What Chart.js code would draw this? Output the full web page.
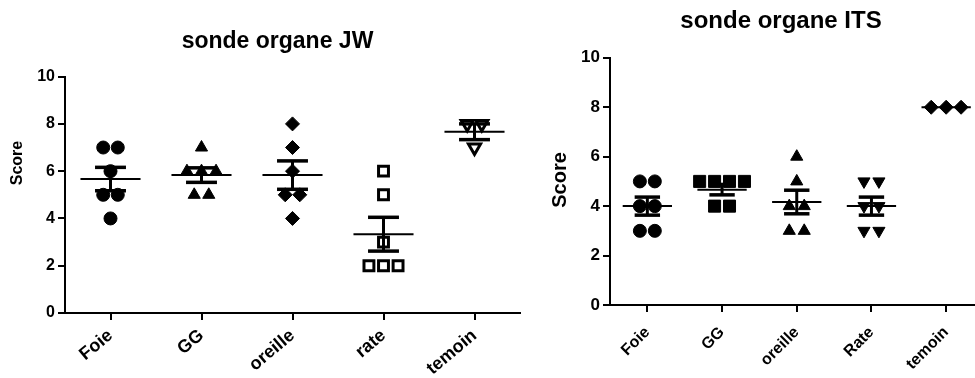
<!DOCTYPE html>
<html><head><meta charset="utf-8">
<script src="https://cdn.jsdelivr.net/npm/chart.js@4/dist/chart.umd.min.js"></script>
<style>
html,body{margin:0;padding:0;background:#fff;overflow:hidden;width:975px;height:378px;position:relative;}
canvas{position:absolute;top:0;}
#c1{left:0;} #c2{left:530px;}
</style></head><body>
<canvas id="c1" width="555" height="378"></canvas>
<canvas id="c2" width="502" height="378"></canvas>
<script>
// ---- data ----
const jwCategories = ['Foie', 'GG', 'oreille', 'rate', 'temoin'];
const jwFoie    = [7, 7, 6, 5, 5, 4];
const jwGG      = [7, 6, 6, 6, 5, 5];
const jwOreille = [8, 7, 6, 5, 5, 4];
const jwRate    = [6, 5, 3, 2, 2, 2];
const jwTemoin  = [8, 8, 7];

const itsCategories = ['Foie', 'GG', 'oreille', 'Rate', 'temoin'];
const itsFoie    = [5, 5, 4, 4, 3, 3];
const itsGG      = [5, 5, 5, 5, 4, 4];
const itsOreille = [6, 5, 4, 4, 3, 3];
const itsRate    = [5, 5, 4, 4, 3, 3];
const itsTemoin  = [8, 8, 8];

const yTickValues = [0, 2, 4, 6, 8, 10];

// ---- helpers ----
const FAM = "'Liberation Sans', Arial, sans-serif";

function spread(values, step) {
  const counts = {}, seen = {};
  values.forEach(v => { counts[v] = (counts[v] || 0) + 1; });
  return values.map(v => {
    const k = seen[v] || 0; seen[v] = k + 1;
    return (k - (counts[v] - 1) / 2) * step;
  });
}

function makeDataset(values, idx, step, style) {
  const off = spread(values, step);
  return Object.assign({
    data: values.map((v, j) => ({ x: idx + off[j], y: v })),
    showLine: false,
    borderColor: '#000',
    backgroundColor: '#000',
    borderWidth: 1,
    pointRotation: 0
  }, style);
}

const meanSemPlugin = {
  id: 'meanSem',
  afterDatasetsDraw(chart, args, opts) {
    const { ctx, scales: { x, y } } = chart;
    chart.data.datasets.forEach((ds, i) => {
      const vals = ds.data.map(p => p.y);
      const n = vals.length;
      const m = vals.reduce((a, b) => a + b, 0) / n;
      const sd = Math.sqrt(vals.reduce((a, b) => a + (b - m) * (b - m), 0) / (n - 1));
      const se = sd / Math.sqrt(n);
      const line = (x1, y1, x2, y2, w) => {
        ctx.beginPath(); ctx.lineWidth = w; ctx.moveTo(x1, y1); ctx.lineTo(x2, y2); ctx.stroke();
      };
      ctx.save();
      ctx.strokeStyle = '#000';
      ctx.lineCap = 'butt';
      const ym = y.getPixelForValue(m);
      line(x.getPixelForValue(i - opts.meanHalf), ym, x.getPixelForValue(i + opts.meanHalf), ym, opts.meanWidth);
      if (se > 0) {
        const yt = y.getPixelForValue(m + se), yb = y.getPixelForValue(m - se);
        const xc = x.getPixelForValue(i);
        line(xc, yt, xc, yb, opts.barWidth);
        line(x.getPixelForValue(i - opts.capHalf), yt, x.getPixelForValue(i + opts.capHalf), yt, opts.capWidth);
        line(x.getPixelForValue(i - opts.capHalf), yb, x.getPixelForValue(i + opts.capHalf), yb, opts.capWidth);
      }
      ctx.restore();
    });
  }
};

const yTitlePlugin = {
  id: 'yTitle',
  afterDraw(chart, args, opts) {
    const ctx = chart.ctx;
    ctx.save();
    ctx.translate(opts.x, opts.y);
    ctx.rotate(-Math.PI / 2);
    ctx.font = 'bold ' + opts.size + 'px ' + FAM;
    ctx.fillStyle = '#000';
    ctx.textAlign = 'center';
    ctx.textBaseline = 'middle';
    ctx.fillText(opts.text, 0, 0);
    ctx.restore();
  }
};

function buildChart(canvasId, cfg) {
  const tickFont = { family: FAM, size: cfg.tickSize, weight: 'bold' };
  return new Chart(document.getElementById(canvasId), {
    type: 'scatter',
    data: { datasets: cfg.datasets },
    plugins: [meanSemPlugin, yTitlePlugin],
    options: {
      responsive: false,
      animation: false,
      devicePixelRatio: 1,
      layout: { padding: cfg.padding },
      plugins: {
        legend: { display: false },
        tooltip: { enabled: false },
        title: {
          display: true, text: cfg.title, color: '#000',
          font: { family: FAM, size: cfg.titleSize, weight: 'bold' },
          padding: cfg.titlePadding
        },
        meanSem: { meanHalf: 0.33, capHalf: 0.17, meanWidth: 2, barWidth: 3, capWidth: 3.5 },
        yTitle: cfg.yTitle
      },
      scales: {
        x: {
          type: 'linear', min: -0.5, max: 4.5,
          afterBuildTicks: s => { s.ticks = cfg.categories.map((c, i) => ({ value: i })); },
          afterFit: s => { s.height = cfg.xHeight; },
          ticks: {
            callback: v => cfg.categories[v],
            minRotation: cfg.catRot, maxRotation: cfg.catRot, autoSkip: false,
            font: { family: FAM, size: cfg.catSize, weight: 'bold' }, color: '#000', padding: cfg.catPad
          },
          grid: { drawOnChartArea: false, drawTicks: true, tickLength: 7, color: '#000', lineWidth: 2 },
          border: { display: true, color: '#000', width: 2 }
        },
        y: {
          min: 0, max: 10,
          afterBuildTicks: s => { s.ticks = yTickValues.map(v => ({ value: v })); },
          afterFit: s => { s.width = cfg.yWidth; },
          ticks: { font: tickFont, color: '#000', padding: 3 },
          grid: { drawOnChartArea: false, drawTicks: true, tickLength: 7, color: '#000', lineWidth: 2 },
          border: { display: true, color: '#000', width: 2 }
        }
      }
    }
  });
}

const circle = { pointStyle: 'circle', pointRadius: 6.5 };
const triUp = { pointStyle: 'triangle', pointRadius: 7 };
const triDown = { pointStyle: 'triangle', pointRadius: 7, pointRotation: 180 };
const diamond = { pointStyle: 'rectRot', pointRadius: 7 };
const square = { pointStyle: 'rect', pointRadius: 8.5 };
const openSquare = { pointStyle: 'rect', pointRadius: 7, backgroundColor: '#fff', borderWidth: 3 };
const openTriDown = { pointStyle: 'triangle', pointRadius: 7, pointRotation: 180, backgroundColor: '#fff', borderWidth: 3 };

const jwStep = 0.16;
buildChart('c1', {
  title: 'sonde organe JW', titleSize: 23,
  categories: jwCategories,
  padding: { left: 35, right: 35, top: 0, bottom: 0 },
  titlePadding: { top: 28, bottom: 21 },
  xHeight: 65, yWidth: 30,
  tickSize: 16, catSize: 18, catPad: 5, catRot: 40,
  yTitle: { text: 'Score', x: 18, y: 163, size: 16 },
  datasets: [
    makeDataset(jwFoie, 0, jwStep, circle),
    makeDataset(jwGG, 1, jwStep, triUp),
    makeDataset(jwOreille, 2, jwStep, diamond),
    makeDataset(jwRate, 3, jwStep, openSquare),
    makeDataset(jwTemoin, 4, jwStep, openTriDown)
  ]
});

const itsStep = 0.2;
buildChart('c2', {
  title: 'sonde organe ITS', titleSize: 24,
  categories: itsCategories,
  padding: { left: 48.5, right: 48.5, top: 0, bottom: 0 },
  titlePadding: { top: 7, bottom: 22 },
  xHeight: 73, yWidth: 31.5,
  tickSize: 17, catSize: 16, catPad: 11, catRot: 45,
  yTitle: { text: 'Score', x: 30, y: 180, size: 20 },
  datasets: [
    makeDataset(itsFoie, 0, itsStep, circle),
    makeDataset(itsGG, 1, itsStep, square),
    makeDataset(itsOreille, 2, itsStep, triUp),
    makeDataset(itsRate, 3, itsStep, triDown),
    makeDataset(itsTemoin, 4, itsStep, diamond)
  ]
});
</script>
</body></html>
